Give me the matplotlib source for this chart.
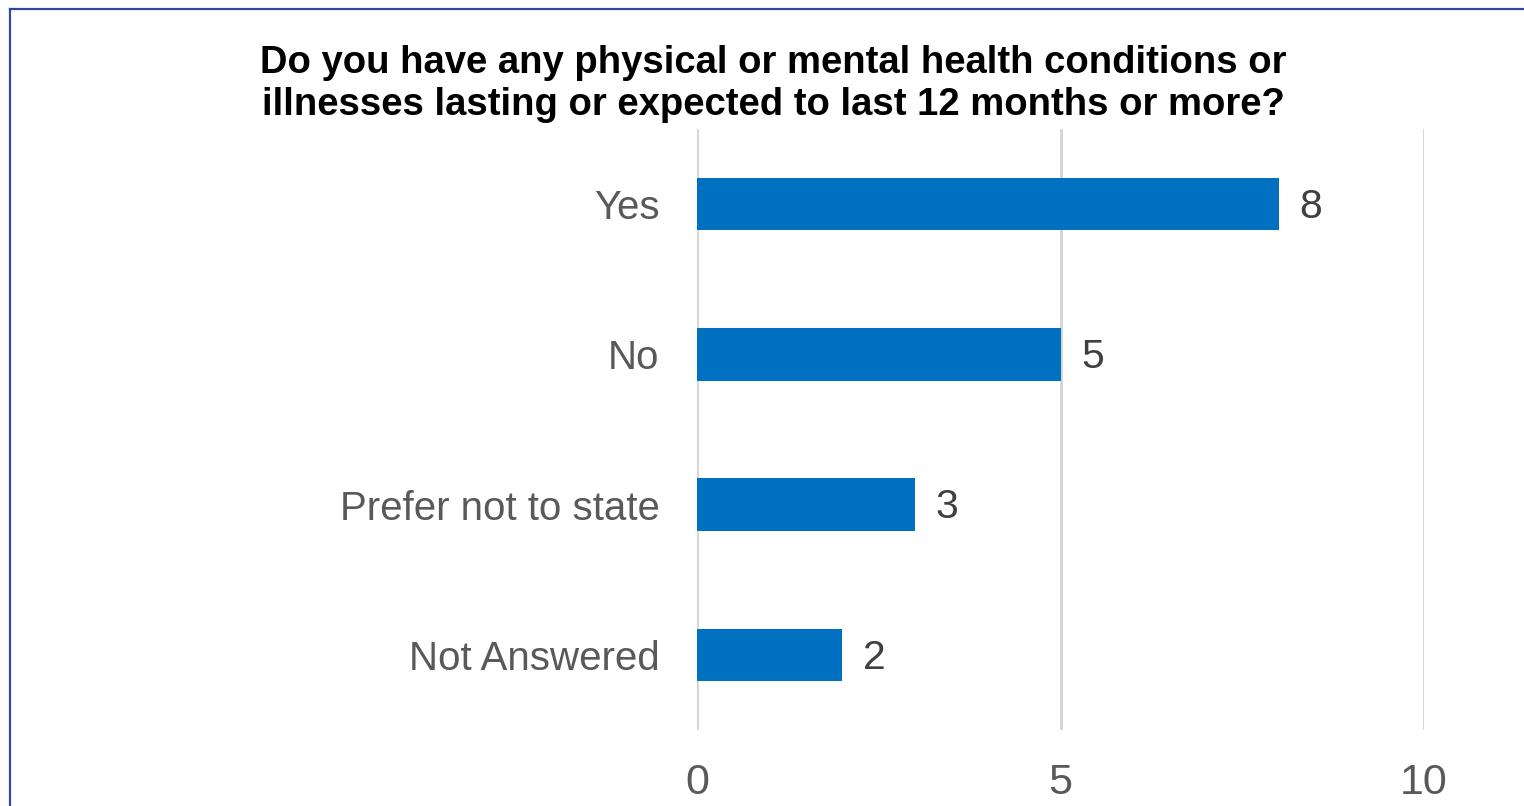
import matplotlib
matplotlib.use("Agg")
import matplotlib.pyplot as plt
from matplotlib.lines import Line2D

categories = ["Yes", "No", "Prefer not to state", "Not Answered"]
counts = [8, 5, 3, 2]
x_ticks = [0, 5, 10]
title = ("Do you have any physical or mental health conditions or\n"
         "illnesses lasting or expected to last 12 months or more?")

plt.rcParams["font.family"] = ["Liberation Sans", "DejaVu Sans"]

W, H = 1524, 806
fig = plt.figure(figsize=(W / 100, H / 100), dpi=100)
fig.patch.set_facecolor("white")

ax = fig.add_axes([697 / W, 1 - 730 / H, (1424 - 697) / W, (730 - 129) / H])
ypos = list(range(len(categories)))
ax.barh(ypos, counts, height=0.35, color="#0070C0", zorder=3)
ax.set_ylim(len(categories) - 0.5, -0.5)
ax.set_xlim(0, 10)
ax.set_xticks(x_ticks)
ax.set_xticklabels([str(t) for t in x_ticks])
ax.set_yticks(ypos)
ax.set_yticklabels(categories)
ax.tick_params(axis="x", length=0, pad=24, labelsize=31, labelcolor="#595959")
ax.tick_params(axis="y", length=0, pad=27, labelsize=29, labelcolor="#595959")
ax.grid(axis="x", color="#D4D4D4", linewidth=2.0, zorder=0)
for s in ax.spines.values():
    s.set_visible(False)

for y, v in zip(ypos, counts):
    ax.annotate(str(v), (v, y), xytext=(15, -2), textcoords="offset points",
                va="center", ha="left", fontsize=29.5, color="#404040")

fig.text(773 / W, 1 - 84 / H, title, ha="center", va="center",
         fontsize=27.5, fontweight="bold", color="black", linespacing=1.2)

# outer frame of the chart area (top and left edges)
fig.add_artist(Line2D([10 / W, 1], [1 - 9 / H, 1 - 9 / H], transform=fig.transFigure,
                      color="#2F4A9A", linewidth=1.6))
fig.add_artist(Line2D([10 / W, 10 / W], [0, 1 - 9 / H], transform=fig.transFigure,
                      color="#2F4A9A", linewidth=1.6))

fig.savefig("out.png", dpi=100, facecolor="white")
